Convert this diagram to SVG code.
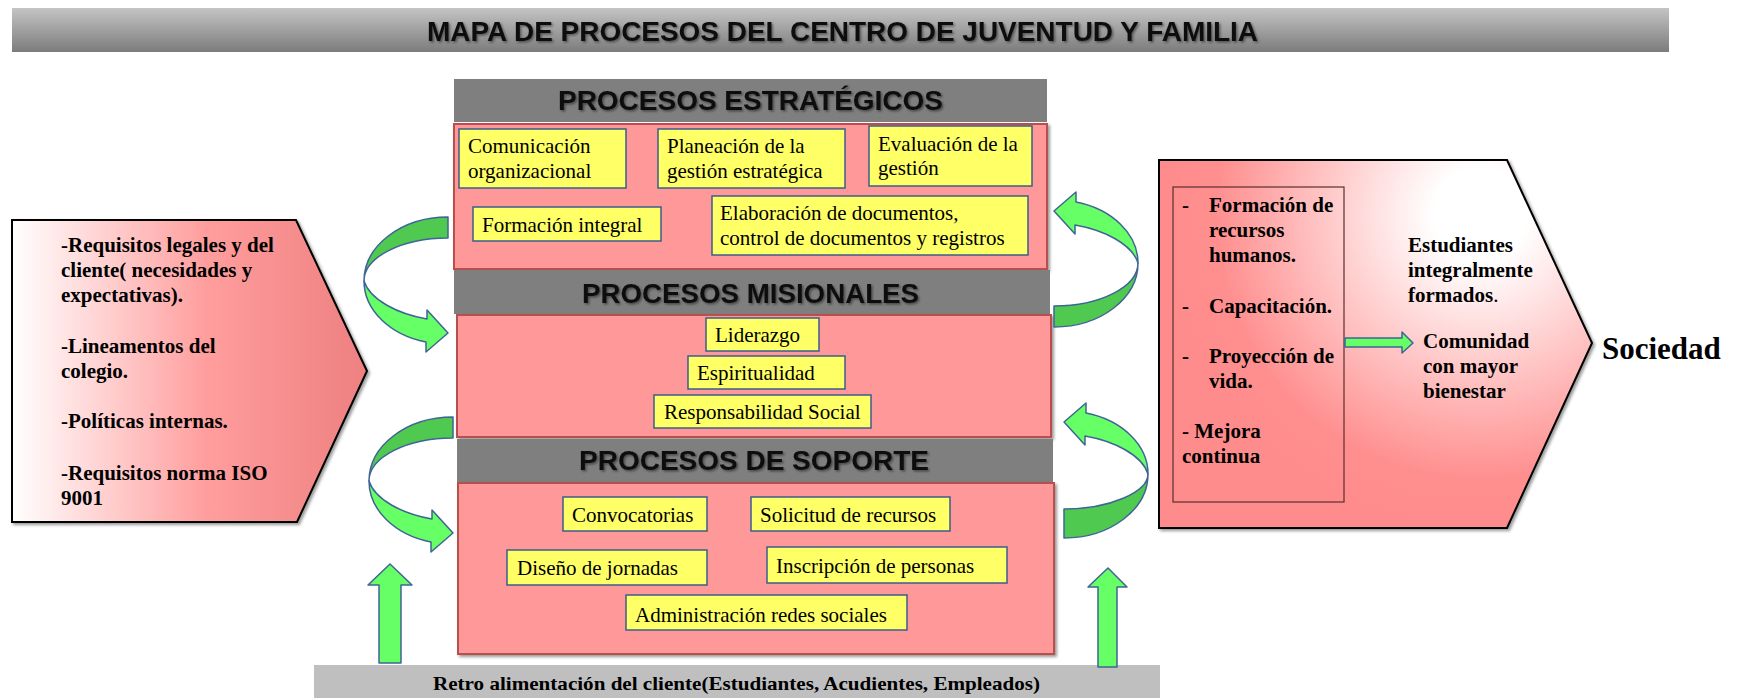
<svg xmlns="http://www.w3.org/2000/svg" xmlns:xlink="http://www.w3.org/1999/xlink" width="1745" height="698" viewBox="0 0 1745 698">
<defs>
<style>
.hdr{fill:#7f7f7f}
.pnk{fill:#ff9999;stroke:#b8504d;stroke-width:2}
.yb{fill:#ffff66;stroke:#3a5d8c;stroke-width:1.5}
.ht{font-family:"Liberation Sans",Arial,sans-serif;font-weight:bold;fill:#111;filter:url(#tsh)}
.yt{font-family:"Liberation Serif","Times New Roman",serif;font-size:21px;fill:#000}
.bt{font-family:"Liberation Serif","Times New Roman",serif;font-size:21px;font-weight:bold;fill:#000}
.dk{fill:#4fc94f;stroke:#3f6496;stroke-width:1.5;stroke-linejoin:round}
.lt{fill:#66ff66;stroke:#3f6496;stroke-width:1.5;stroke-linejoin:round}
.pent{stroke:#000;stroke-width:2}
</style>
<linearGradient id="gTitle" x1="0" y1="0" x2="0" y2="1">
<stop offset="0" stop-color="#c4c4c4"/>
<stop offset="1" stop-color="#7c7c7c"/>
</linearGradient>
<linearGradient id="gLeft" x1="0" y1="0" x2="1" y2="0">
<stop offset="0" stop-color="#ffffff"/>
<stop offset="0.55" stop-color="#ff9d9d"/>
<stop offset="1" stop-color="#ee8080"/>
</linearGradient>
<radialGradient id="gRight" gradientUnits="userSpaceOnUse" cx="1480" cy="215" r="310">
<stop offset="0" stop-color="#ffffff"/>
<stop offset="0.15" stop-color="#ffffff"/>
<stop offset="0.85" stop-color="#ff8f8f"/>
<stop offset="1" stop-color="#ff8c8c"/>
</radialGradient>
<filter id="tsh" x="-5%" y="-30%" width="110%" height="160%">
<feDropShadow dx="1.5" dy="1.5" stdDeviation="1" flood-color="#000" flood-opacity="0.45"/>
</filter>
<filter id="bsh" x="-5%" y="-5%" width="110%" height="110%">
<feDropShadow dx="2" dy="2" stdDeviation="1.5" flood-color="#000" flood-opacity="0.4"/>
</filter>
<g id="curvedArrow">
<path class="dk" d="M448,217 C401.6,217 364,245.7 364,281 C364,257.3 401.6,238 448,238 Z"/>
<path class="lt" d="M364,281 C364,310 390,335 426,342 L426,352 L448,333 L427,310 L427,319 C398,314 370,300 364,281 Z"/>
</g>
</defs>
<rect width="1745" height="698" fill="#ffffff"/>

<g id="title">
<rect x="12" y="8" width="1657" height="44" fill="url(#gTitle)"/>
<text class="ht" x="427" y="41" font-size="28" textLength="831" lengthAdjust="spacingAndGlyphs">MAPA DE PROCESOS DEL CENTRO DE JUVENTUD Y FAMILIA</text>
</g>

<g id="entradas">
<path class="pent" d="M12,220 L296,220 L367,371 L297,522 L12,522 Z" fill="url(#gLeft)" filter="url(#bsh)"/>
<text class="bt" x="61" y="252">-Requisitos legales y del</text>
<text class="bt" x="61" y="277">cliente( necesidades y</text>
<text class="bt" x="61" y="302">expectativas).</text>
<text class="bt" x="61" y="353">-Lineamentos del</text>
<text class="bt" x="61" y="378">colegio.</text>
<text class="bt" x="61" y="428">-Políticas internas.</text>
<text class="bt" x="61" y="480">-Requisitos norma ISO</text>
<text class="bt" x="61" y="505">9001</text>
</g>

<g id="procesos-estrategicos">
<rect class="hdr" x="454" y="79" width="593" height="43"/>
<text class="ht" x="558" y="110" font-size="27" textLength="385" lengthAdjust="spacingAndGlyphs">PROCESOS ESTRATÉGICOS</text>
<rect class="pnk" x="454" y="124" width="593" height="145" filter="url(#bsh)"/>
<g id="comunicacion">
<rect class="yb" x="459" y="129" width="167" height="59"/>
<text class="yt" x="468" y="153">Comunicación</text>
<text class="yt" x="468" y="178">organizacional</text>
</g>
<g id="planeacion">
<rect class="yb" x="658" y="129" width="187" height="59"/>
<text class="yt" x="667" y="153">Planeación de la</text>
<text class="yt" x="667" y="178">gestión estratégica</text>
</g>
<g id="evaluacion">
<rect class="yb" x="869" y="126" width="163" height="60"/>
<text class="yt" x="878" y="151">Evaluación de la</text>
<text class="yt" x="878" y="175">gestión</text>
</g>
<g id="formacion">
<rect class="yb" x="473" y="207" width="188" height="34"/>
<text class="yt" x="482" y="232">Formación integral</text>
</g>
<g id="elaboracion">
<rect class="yb" x="712" y="196" width="316" height="59"/>
<text class="yt" x="720" y="220">Elaboración de documentos,</text>
<text class="yt" x="720" y="245">control de documentos y registros</text>
</g>
</g>

<g id="procesos-misionales">
<rect class="hdr" x="454" y="270" width="596" height="44"/>
<text class="ht" x="582" y="303" font-size="27" textLength="337" lengthAdjust="spacingAndGlyphs">PROCESOS MISIONALES</text>
<rect class="pnk" x="457" y="315" width="594" height="122" filter="url(#bsh)"/>
<g id="liderazgo">
<rect class="yb" x="706" y="318" width="113" height="33"/>
<text class="yt" x="715" y="342">Liderazgo</text>
</g>
<g id="espiritualidad">
<rect class="yb" x="688" y="356" width="157" height="33"/>
<text class="yt" x="697" y="380">Espiritualidad</text>
</g>
<g id="responsabilidad">
<rect class="yb" x="654" y="395" width="217" height="33"/>
<text class="yt" x="664" y="419">Responsabilidad Social</text>
</g>
</g>

<g id="procesos-soporte">
<rect class="hdr" x="457" y="439" width="596" height="43"/>
<text class="ht" x="579" y="470" font-size="27" textLength="350" lengthAdjust="spacingAndGlyphs">PROCESOS DE SOPORTE</text>
<rect class="pnk" x="458" y="483" width="596" height="171" filter="url(#bsh)"/>
<g id="convocatorias">
<rect class="yb" x="563" y="497" width="144" height="34"/>
<text class="yt" x="572" y="522">Convocatorias</text>
</g>
<g id="solicitud">
<rect class="yb" x="751" y="497" width="199" height="34"/>
<text class="yt" x="760" y="522">Solicitud de recursos</text>
</g>
<g id="diseno">
<rect class="yb" x="507" y="550" width="200" height="35"/>
<text class="yt" x="517" y="575">Diseño de jornadas</text>
</g>
<g id="inscripcion">
<rect class="yb" x="767" y="547" width="240" height="36"/>
<text class="yt" x="776" y="573">Inscripción de personas</text>
</g>
<g id="administracion">
<rect class="yb" x="626" y="595" width="281" height="35"/>
<text class="yt" x="635" y="622">Administración redes sociales</text>
</g>
</g>

<g id="retroalimentacion">
<rect x="314" y="665" width="846" height="33" fill="#bfbfbf"/>
<text class="bt" x="433" y="690" font-size="19" textLength="607" lengthAdjust="spacingAndGlyphs" style="font-size:19px">Retro alimentación del cliente(Estudiantes, Acudientes, Empleados)</text>
</g>

<g id="salidas">
<path class="pent" d="M1159,160 L1507,160 L1592,343 L1507,528 L1159,528 Z" fill="url(#gRight)" filter="url(#bsh)"/>
<rect x="1173" y="187" width="171" height="315" fill="none" stroke="#5a2e2e" stroke-width="1.2"/>
<text class="bt" x="1182" y="212">-</text>
<text class="bt" x="1209" y="212">Formación de</text>
<text class="bt" x="1209" y="237">recursos</text>
<text class="bt" x="1209" y="262">humanos.</text>
<text class="bt" x="1182" y="313">-</text>
<text class="bt" x="1209" y="313">Capacitación.</text>
<text class="bt" x="1182" y="363">-</text>
<text class="bt" x="1209" y="363">Proyección de</text>
<text class="bt" x="1209" y="388">vida.</text>
<text class="bt" x="1182" y="438">- Mejora</text>
<text class="bt" x="1182" y="463">continua</text>
<text class="bt" x="1408" y="252">Estudiantes</text>
<text class="bt" x="1408" y="277">integralmente</text>
<text class="bt" x="1408" y="302">formados<tspan font-weight="normal">.</tspan></text>
<text class="bt" x="1423" y="348">Comunidad</text>
<text class="bt" x="1423" y="373">con mayor</text>
<text class="bt" x="1423" y="398">bienestar</text>
</g>

<g id="sociedad">
<text class="bt" x="1602" y="359" style="font-size:31px">Sociedad</text>
</g>

<g id="connectors">
<use xlink:href="#curvedArrow"/>
<use xlink:href="#curvedArrow" transform="translate(5,200)"/>
<use xlink:href="#curvedArrow" transform="rotate(180 751 272)"/>
<path class="dk" d="M1064,538 C1110.4,538 1148,509.3 1148,474 C1148,492 1110,509 1064,509 Z"/>
<path class="lt" d="M1148,474 C1148,445 1122,420 1086,413 L1086,403 L1064,422 L1085,445 L1085,436 C1114,441 1142,455 1148,474 Z"/>
<path class="lt" d="M379,663 L379,585 L368,585 L390,564 L412,585 L401,585 L401,663 Z"/>
<path class="lt" d="M1098,667 L1098,587 L1088,587 L1108,568 L1127,587 L1117,587 L1117,667 Z"/>
<path class="lt" d="M1345,338 L1402,338 L1402,332 L1413,343 L1402,353 L1402,347 L1345,347 Z"/>
</g>
</svg>
